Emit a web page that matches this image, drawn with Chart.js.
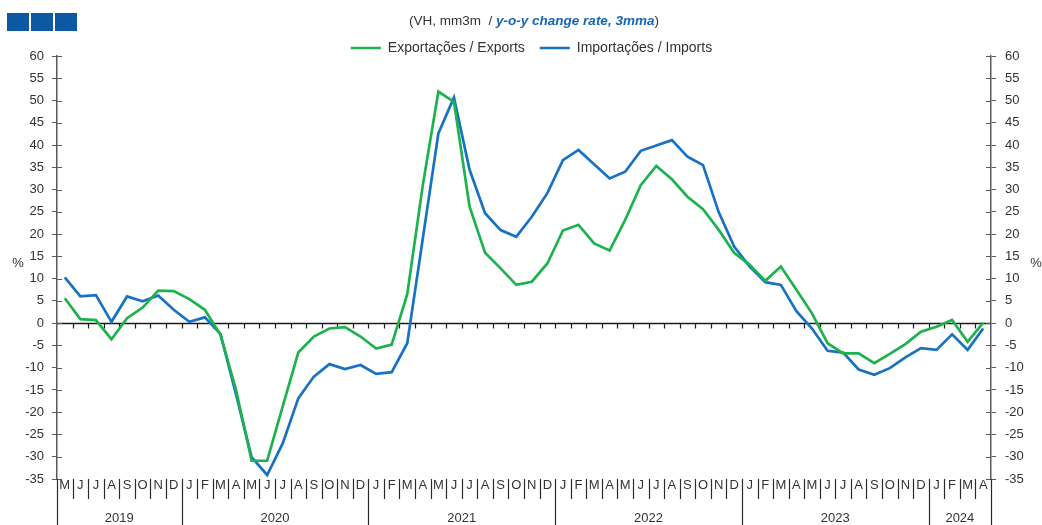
<!DOCTYPE html>
<html><head><meta charset="utf-8">
<script src="https://cdn.jsdelivr.net/npm/chart.js@4.4.1/dist/chart.umd.min.js"></script>
<style>html,body{margin:0;padding:0;background:#fff;} canvas{display:block}</style>
</head><body>
<canvas id="c" width="1042" height="525"></canvas>
<script>
const monthLabels = [
  'M','J','J','A','S','O','N','D',
  'J','F','M','A','M','J','J','A','S','O','N','D',
  'J','F','M','A','M','J','J','A','S','O','N','D',
  'J','F','M','A','M','J','J','A','S','O','N','D',
  'J','F','M','A','M','J','J','A','S','O','N','D',
  'J','F','M','A'
];
const yearLabels = ['2019','2020','2021','2022','2023','2024'];
const yearBoundaries = [0, 8, 20, 32, 44, 56, 60];
const exportsData = [
  5.6, 0.9, 0.7, -3.6, 1.1, 3.5, 7.3, 7.2,
  5.4, 3.0, -2.6, -15.0, -30.9, -30.9, -18.7, -6.6, -3.0, -1.2, -0.9, -3.0,
  -5.7, -4.8, 6.5, 31.0, 52.0, 49.7, 26.2, 15.8, 12.3, 8.6, 9.3, 13.4,
  20.8, 22.1, 17.9, 16.3, 23.2, 31.0, 35.3, 32.3, 28.4, 25.6, 21.0, 15.8,
  13.1, 9.5, 12.7, 7.5, 2.2, -4.5, -6.8, -6.8, -9.0, -6.9, -4.7, -1.9,
  -0.8, 0.7, -4.2, 0.1
];
const importsData = [
  10.3, 6.0, 6.3, 0.3, 6.0, 4.9, 6.2, 3.0,
  0.3, 1.3, -2.4, -16.0, -30.1, -34.1, -27.0, -16.9, -12.0, -9.2, -10.3, -9.4,
  -11.4, -11.0, -4.5, 19.0, 42.6, 50.7, 34.5, 24.7, 20.9, 19.4, 23.9, 29.2,
  36.6, 38.9, 35.7, 32.5, 34.0, 38.7, 39.9, 41.1, 37.4, 35.5, 25.0, 17.2,
  12.7, 9.2, 8.6, 2.7, -1.2, -6.2, -6.6, -10.4, -11.6, -10.1, -7.7, -5.6,
  -6.0, -2.5, -6.0, -1.2
];
const seriesNames = ['Exportações / Exports', 'Importações / Imports'];
const subtitleParts = ['(VH, mm3m  / ', 'y-o-y change rate, 3mma', ')'];
const unitLabel = '%';
const yMin = -35, yMax = 60, yStep = 5;

const FONT = "'Liberation Sans', Arial, sans-serif";
const TXT = '#333333';
const AX = '#5a5a5a';
const GREEN = '#1db24d';
const BLUE = '#1772c4';

const decor = {
  id: 'decor',
  afterLayout(chart) {
    const lg = chart.legend;
    if (lg) { lg.top += 9; lg.bottom += 9; lg.left += 10.5; lg.right += 10.5; }
  },
  beforeDatasetsDraw(chart) {
    const {ctx, chartArea: a, scales: {x, y}} = chart;
    const y0 = Math.round(y.getPixelForValue(0)) + 0.5;
    ctx.save();
    ctx.strokeStyle = '#1a1a1a';
    ctx.lineWidth = 1.5;
    ctx.beginPath(); ctx.moveTo(a.left, y0); ctx.lineTo(a.right, y0); ctx.stroke();
    ctx.lineWidth = 1.2;
    for (let k = 1; k < monthLabels.length; k++) {
      const px = Math.round(x.getPixelForValue(k - 0.5)) + 0.5;
      ctx.beginPath(); ctx.moveTo(px, y0); ctx.lineTo(px, y0 + 5); ctx.stroke();
    }
    ctx.strokeStyle = AX; ctx.lineWidth = 1;
    y.ticks.forEach(t => {
      const py = Math.round(y.getPixelForValue(t.value)) + 0.5;
      ctx.beginPath();
      ctx.moveTo(a.left, py); ctx.lineTo(a.left + 5, py);
      ctx.moveTo(a.right - 5, py); ctx.lineTo(a.right, py);
      ctx.stroke();
    });
    ctx.restore();
  },
  afterDraw(chart) {
    const {ctx, chartArea: a, scales: {x, y}} = chart;
    ctx.save();
    // category separators
    ctx.strokeStyle = '#2a2a2a';
    ctx.lineWidth = 1.2;
    for (let k = 0; k <= monthLabels.length; k++) {
      const px = Math.round(x.getPixelForValue(k - 0.5)) + 0.5;
      const isYear = yearBoundaries.includes(k);
      ctx.beginPath();
      ctx.moveTo(px, a.bottom);
      ctx.lineTo(px, isYear ? chart.height : a.bottom + 20);
      ctx.stroke();
    }
    // year labels
    ctx.fillStyle = TXT;
    ctx.font = '13px ' + FONT;
    ctx.textAlign = 'center';
    ctx.textBaseline = 'middle';
    for (let j = 0; j < yearLabels.length; j++) {
      const l = x.getPixelForValue(yearBoundaries[j] - 0.5);
      const r = x.getPixelForValue(yearBoundaries[j + 1] - 0.5);
      ctx.fillText(yearLabels[j], (l + r) / 2, 518);
    }
    // unit labels
    ctx.font = '13px ' + FONT;
    ctx.fillText(unitLabel, 18, 263);
    ctx.fillText(unitLabel, 1036, 263);
    // subtitle
    const f1 = '13.5px ' + FONT, f2 = 'italic bold 13.5px ' + FONT;
    ctx.font = f1; const w0 = ctx.measureText(subtitleParts[0]).width; const w2 = ctx.measureText(subtitleParts[2]).width;
    ctx.font = f2; const w1 = ctx.measureText(subtitleParts[1]).width;
    let sx = 534 - (w0 + w1 + w2) / 2;
    ctx.textAlign = 'left';
    ctx.font = f1; ctx.fillStyle = TXT; ctx.fillText(subtitleParts[0], sx, 21); sx += w0;
    ctx.font = f2; ctx.fillStyle = '#1565b8'; ctx.fillText(subtitleParts[1], sx, 21); sx += w1;
    ctx.font = f1; ctx.fillStyle = TXT; ctx.fillText(subtitleParts[2], sx, 21);
    // logo blocks
    ctx.fillStyle = '#0c59a2';
    [7, 31, 55].forEach(bx => ctx.fillRect(bx, 13, 22, 18));
    ctx.restore();
  }
};

new Chart(document.getElementById('c'), {
  type: 'line',
  data: {
    labels: monthLabels,
    datasets: [
      { label: seriesNames[0], data: exportsData, borderColor: GREEN, backgroundColor: GREEN,
        borderWidth: 2.7, pointRadius: 0, tension: 0, yAxisID: 'y' },
      { label: seriesNames[1], data: importsData, borderColor: BLUE, backgroundColor: BLUE,
        borderWidth: 2.7, pointRadius: 0, tension: 0, yAxisID: 'y' }
    ]
  },
  options: {
    responsive: false,
    animation: false,
    events: [],
    layout: { padding: { top: 17, bottom: 0, left: 0, right: 0 } },
    plugins: {
      title: { display: false },
      tooltip: { enabled: false },
      legend: {
        display: true,
        position: 'top',
        align: 'center',
        labels: {
          usePointStyle: true,
          pointStyle: 'line',
          pointStyleWidth: 30,
          padding: 15,
          color: TXT,
          font: { family: FONT, size: 14 }
        }
      }
    },
    scales: {
      x: {
        type: 'category',
        offset: true,
        grid: { display: false, drawTicks: false },
        border: { display: false },
        ticks: { autoSkip: false, maxRotation: 0, minRotation: 0, padding: 0, color: TXT,
                 font: { family: FONT, size: 13, lineHeight: 1.0 } },
        afterFit(s) { s.height = 46; }
      },
      y: {
        position: 'left',
        min: yMin, max: yMax,
        ticks: { stepSize: yStep, padding: 8, color: TXT, font: { family: FONT, size: 13 } },
        grid: { drawOnChartArea: false, drawTicks: true, tickLength: 5, color: AX, lineWidth: 1 },
        border: { display: true, color: AX, width: 1.5 },
        afterFit(s) { s.width = 57; }
      },
      y2: {
        position: 'right',
        display: true,
        min: yMin, max: yMax,
        ticks: { stepSize: yStep, padding: 9, color: TXT, font: { family: FONT, size: 13 } },
        grid: { drawOnChartArea: false, drawTicks: true, tickLength: 5, color: AX, lineWidth: 1 },
        border: { display: true, color: AX, width: 1.5 },
        afterFit(s) { s.width = 51; }
      }
    }
  },
  plugins: [decor]
});
</script>
</body></html>
